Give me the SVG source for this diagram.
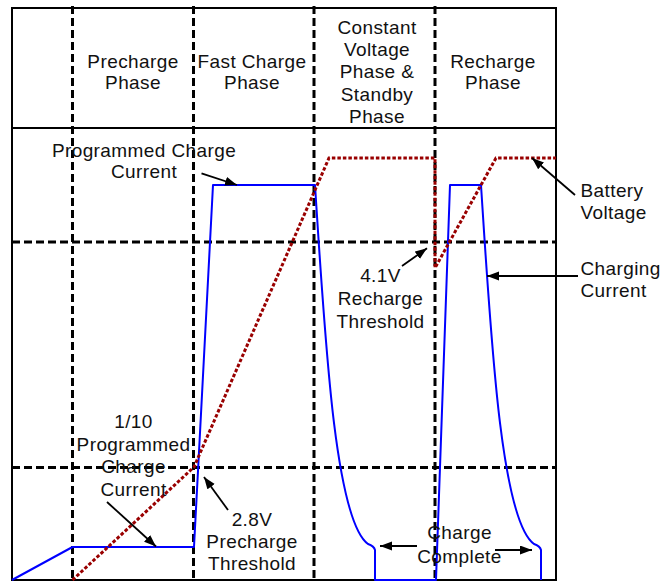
<svg xmlns="http://www.w3.org/2000/svg" width="661" height="581" viewBox="0 0 661 581">
<defs>
<style>
.t{font-family:"Liberation Sans",Arial,sans-serif;font-size:19px;letter-spacing:0.4px;fill:#111;text-anchor:middle}
.l{text-anchor:start}
.frame{fill:none;stroke:#000;stroke-width:2}
.grid{fill:none;stroke:#000;stroke-width:3;stroke-dasharray:8 4}
.cur{fill:none;stroke:#0000ff;stroke-width:2;stroke-linejoin:round}
.volt{fill:none;stroke:#990000;stroke-width:3;stroke-dasharray:3.5 2}
.arr{fill:none;stroke:#000;stroke-width:1.8;marker-end:url(#ah)}
</style>
<marker id="ah" markerUnits="userSpaceOnUse" markerWidth="13" markerHeight="10" refX="12" refY="4.5" orient="auto">
<path d="M0,0 L12,4.5 L0,9 z" fill="#000"/>
</marker>
</defs>
<rect width="661" height="581" fill="#fff"/>
<g id="frame">
<rect class="frame" x="12" y="8" width="544" height="572"/>
<line class="frame" x1="12" y1="128" x2="556" y2="128"/>
</g>
<g id="grid">
<line class="grid" x1="72.5" y1="6" x2="72.5" y2="580"/>
<line class="grid" x1="193.5" y1="6" x2="193.5" y2="580"/>
<line class="grid" x1="314" y1="6" x2="314" y2="580"/>
<line class="grid" x1="435" y1="6" x2="435" y2="580"/>
<line class="grid" x1="12" y1="242" x2="556" y2="242"/>
<line class="grid" x1="12" y1="467.5" x2="556" y2="467.5"/>
</g>
<g id="charging-current">
<path class="cur" d="M12,580 L72.5,547 L194,547 L213,185 L315,185 C325,340 335,520 368,544 Q374,546 375,550 L375,580 L436,580 L450,185 L481,185 C491,340 501,520 534,544 Q540,546 541,550 L541,580"/>
</g>
<g id="battery-voltage">
<path class="volt" d="M72.5,580 L194,467 L329,158 L435,158 L435,268 L496,158 L556,158"/>
</g>
<g id="header-precharge"><text class="t" x="133" y="67.5">Precharge</text><text class="t" x="133" y="88.5">Phase</text></g>
<g id="header-fast"><text class="t" x="252" y="67.5">Fast Charge</text><text class="t" x="252" y="88.5">Phase</text></g>
<g id="header-cv"><text class="t" x="377" y="33.5">Constant</text><text class="t" x="377" y="56">Voltage</text><text class="t" x="377" y="78">Phase &amp;</text><text class="t" x="377" y="100.5">Standby</text><text class="t" x="377" y="122.5">Phase</text></g>
<g id="header-recharge"><text class="t" x="493" y="67.5">Recharge</text><text class="t" x="493" y="88.5">Phase</text></g>
<g id="label-programmed"><text class="t" x="144" y="157">Programmed Charge</text><text class="t" x="144" y="177.5">Current</text></g>
<g id="label-battery"><text class="t l" x="580.5" y="197">Battery</text><text class="t l" x="580.5" y="218.5">Voltage</text></g>
<g id="label-charging"><text class="t l" x="580.5" y="275">Charging</text><text class="t l" x="580.5" y="297">Current</text></g>
<g id="label-recharge-th"><text class="t" x="380.5" y="282">4.1V</text><text class="t" x="380.5" y="305">Recharge</text><text class="t" x="380.5" y="327.5">Threshold</text></g>
<g id="label-tenth"><text class="t" x="133.5" y="427.5">1/10</text><text class="t" x="133.5" y="450.5">Programmed</text><text class="t" x="133.5" y="473.3">Charge</text><text class="t" x="133.5" y="495.7">Current</text></g>
<g id="label-precharge-th"><text class="t" x="252" y="525.7">2.8V</text><text class="t" x="252" y="547.5">Precharge</text><text class="t" x="252" y="570">Threshold</text></g>
<g id="label-complete"><text class="t" x="459.5" y="539.3">Charge</text><text class="t" x="459.5" y="562.7">Complete</text></g>
<g id="connectors">
<line class="arr" x1="201.5" y1="173.3" x2="237" y2="185"/>
<line class="arr" x1="575" y1="195" x2="532" y2="158"/>
<line class="arr" x1="578" y1="276" x2="487" y2="276"/>
<line class="arr" x1="402" y1="266" x2="427" y2="248.3"/>
<line class="arr" x1="107" y1="502" x2="156" y2="546.5"/>
<line class="arr" x1="228" y1="510" x2="204" y2="477"/>
<line class="arr" x1="417" y1="546" x2="380" y2="546"/>
<line class="arr" x1="495" y1="550" x2="532" y2="550"/>
</g>
</svg>
